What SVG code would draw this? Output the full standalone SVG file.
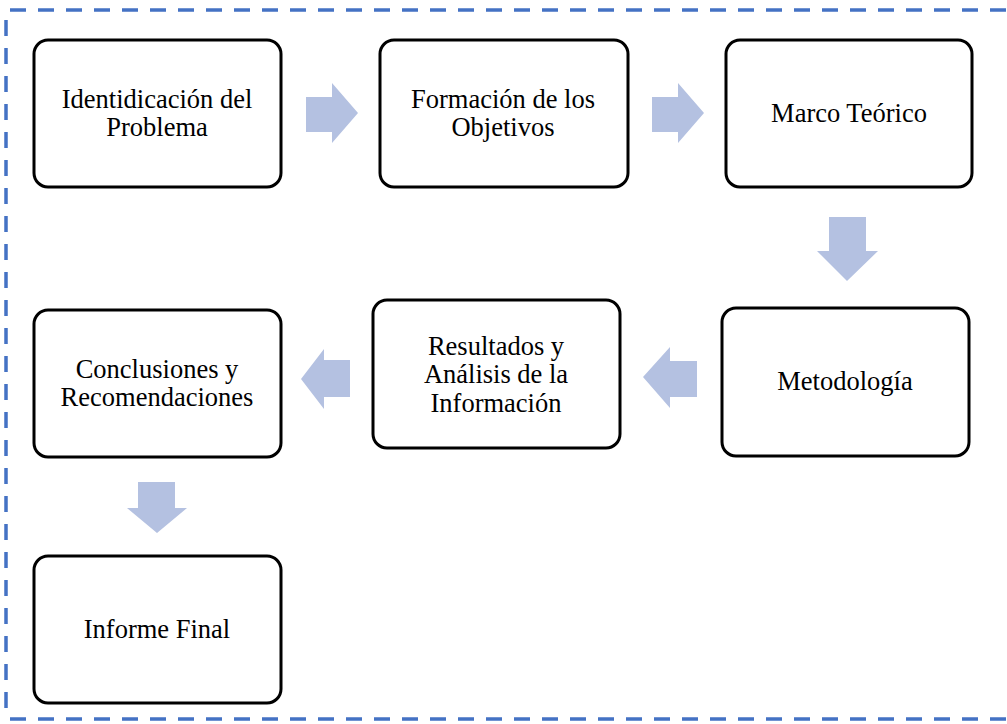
<svg xmlns="http://www.w3.org/2000/svg" width="1007" height="724" viewBox="0 0 1007 724">
  <style>
    .frame { fill: none; stroke: #4472C4; stroke-width: 3.5; stroke-dasharray: 16 12; }
    .box { fill: #ffffff; stroke: #000000; stroke-width: 3; }
    .lbl { font-family: "Liberation Serif", "Times New Roman", serif; font-size: 26.5px; fill: #000000; text-anchor: middle; }
    .arrow { fill: #B4C1E1; }
  </style>
  <rect width="1007" height="724" fill="#ffffff"/>

  <!-- dashed outer frame -->
  <g id="frame">
    <line class="frame" x1="10" y1="10" x2="1007" y2="10"/>
    <line class="frame" x1="6" y1="20" x2="6" y2="716"/>
    <line class="frame" x1="10" y1="719" x2="1007" y2="719"/>
  </g>

  <!-- block arrows between steps -->
  <g id="connectors">
    <polygon class="arrow" points="306,97 332,97 332,83 358,113 332,143 332,132 306,132"/>
    <polygon class="arrow" points="652,97 678,97 678,83 704,113 678,143 678,132 652,132"/>
    <polygon class="arrow" points="829,217 866,217 866,251 878,251 847,281 817,251 829,251"/>
    <polygon class="arrow" points="697,361 670,361 670,347 643,377 670,408 670,397 697,397"/>
    <polygon class="arrow" points="350,360 324,360 324,349 301,379 324,409 324,397 350,397"/>
    <polygon class="arrow" points="138,482 175,482 175,508 187,508 157,533 127,508 138,508"/>
  </g>

  <g id="node-identificacion">
    <rect class="box" x="34" y="40" width="247" height="147" rx="14"/>
    <text class="lbl" x="157" y="108">Identidicación del</text>
    <text class="lbl" x="157" y="136">Problema</text>
  </g>

  <g id="node-objetivos">
    <rect class="box" x="380" y="40" width="248" height="147" rx="14"/>
    <text class="lbl" x="503" y="108">Formación de los</text>
    <text class="lbl" x="503" y="136">Objetivos</text>
  </g>

  <g id="node-marco">
    <rect class="box" x="726" y="40" width="246" height="147" rx="14"/>
    <text class="lbl" x="849" y="122">Marco Teórico</text>
  </g>

  <g id="node-metodologia">
    <rect class="box" x="722" y="308" width="247" height="148" rx="14"/>
    <text class="lbl" x="845" y="390">Metodología</text>
  </g>

  <g id="node-resultados">
    <rect class="box" x="373" y="300" width="247" height="148" rx="14"/>
    <text class="lbl" x="496" y="355">Resultados y</text>
    <text class="lbl" x="496" y="383">Análisis de la</text>
    <text class="lbl" x="496" y="412">Información</text>
  </g>

  <g id="node-conclusiones">
    <rect class="box" x="34" y="310" width="247" height="147" rx="14"/>
    <text class="lbl" x="157" y="378">Conclusiones y</text>
    <text class="lbl" x="157" y="406">Recomendaciones</text>
  </g>

  <g id="node-informe">
    <rect class="box" x="34" y="556" width="247" height="147" rx="14"/>
    <text class="lbl" x="157" y="638">Informe Final</text>
  </g>
</svg>
